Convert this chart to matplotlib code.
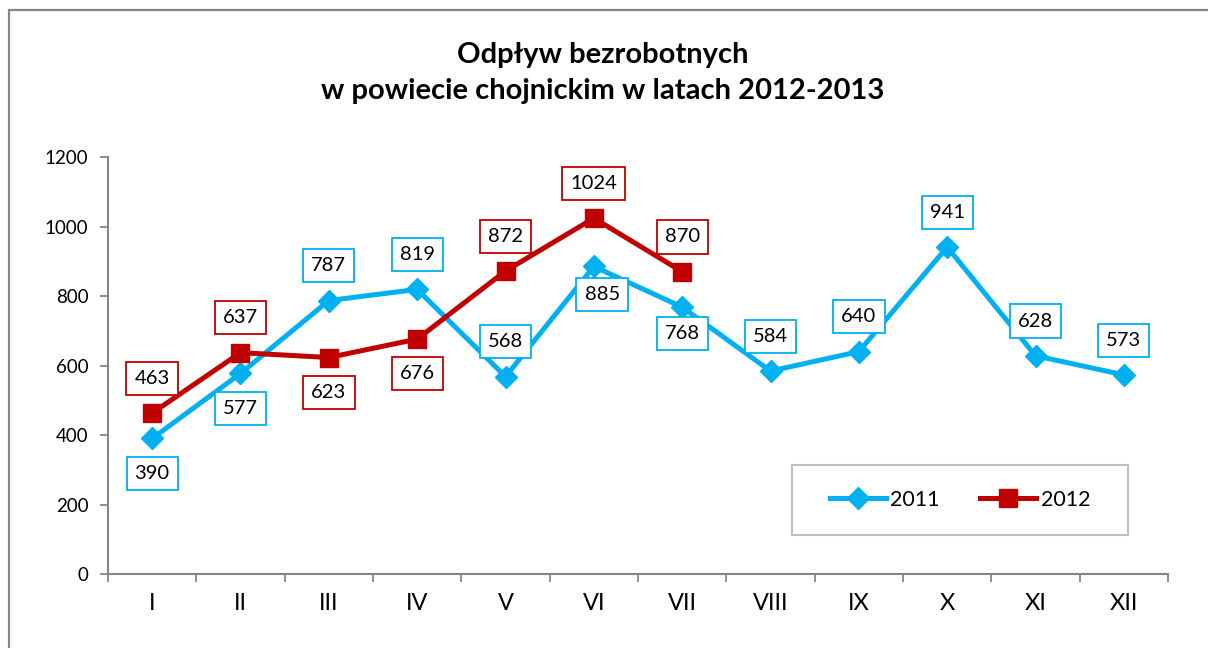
import matplotlib
matplotlib.use("Agg")
import matplotlib.pyplot as plt
import matplotlib.patches as patches

plt.rcParams['font.family'] = ['Lato', 'DejaVu Sans']

# dane
months = ["I", "II", "III", "IV", "V", "VI", "VII", "VIII", "IX", "X", "XI", "XII"]
vals_2011 = [390, 577, 787, 819, 568, 885, 768, 584, 640, 941, 628, 573]
vals_2012 = [463, 637, 623, 676, 872, 1024, 870]
# +1 = etykieta nad punktem, -1 = pod punktem
pos_2011 = [-1, -1, 1, 1, 1, -1, -1, 1, 1, 1, 1, 1]
pos_2012 = [1, 1, -1, -1, 1, 1, 1]

BLUE = "#00b0f0"
RED = "#c00000"
GRAY = "#868686"

fig = plt.figure(figsize=(12.08, 6.48), dpi=100)
ax = fig.add_axes([0.0894, 0.1142, 0.8775, 0.6435])

x11 = list(range(len(vals_2011)))
x12 = list(range(len(vals_2012)))

ax.plot(x11, vals_2011, color=BLUE, lw=3.6, marker="D", ms=11,
        label="2011", zorder=3)
ax.plot(x12, vals_2012, color=RED, lw=3.6, marker="s", ms=13,
        label="2012", zorder=4)

# etykiety VI i VII (2011) stoja blizej punktow, jak w oryginale
near = {5: (6, 20), 6: (0, 19)}


def labels(xs, vals, pos, color, tweak=None):
    tweak = tweak or {}
    for x, v, p in zip(xs, vals, pos):
        dx, dy = tweak.get(x, (0, 25))
        ax.annotate(str(v), (x, v), xytext=(dx, dy * p), textcoords="offset points",
                    ha="center", va="center", fontsize=14.5, zorder=5,
                    bbox=dict(boxstyle="square,pad=0.4", fc="white", ec=color, lw=1.3))


labels(x11, vals_2011, pos_2011, BLUE, near)
labels(x12, vals_2012, pos_2012, RED)

ax.set_xlim(-0.5, 11.5)
ax.set_ylim(0, 1200)
ax.set_yticks(range(0, 1201, 200))
ax.set_xticks(x11)
ax.set_xticklabels(months, fontsize=17)
ax.set_xticks([i - 0.5 for i in range(13)], minor=True)
ax.tick_params(axis="x", which="major", length=0, pad=14)
ax.tick_params(axis="x", which="minor", length=6, color=GRAY, width=1.3)
ax.tick_params(axis="y", length=6, color=GRAY, width=1.3, labelsize=13.5, pad=8)

for s in ["top", "right"]:
    ax.spines[s].set_visible(False)
for s in ["left", "bottom"]:
    ax.spines[s].set_color(GRAY)
    ax.spines[s].set_linewidth(1.5)

fig.text(0.499, 0.887, "Odpływ bezrobotnych\nw powiecie chojnickim w latach 2012-2013",
         ha="center", va="center", fontsize=21, fontweight="bold", linespacing=1.5)

# ramka legendy
fig.patches.append(patches.Rectangle((792 / 1208, 1 - 535 / 648), 336 / 1208, 70 / 648,
                                     transform=fig.transFigure, fill=False,
                                     ec="#bfbfbf", lw=1.5))
fig.legend(loc="center", bbox_to_anchor=(0.7947, 0.2284), ncol=2, frameon=False,
           fontsize=15.5, handlelength=2.6, handletextpad=0.2, columnspacing=1.9)

# ramka wykresu
fig.patches.append(patches.Rectangle((9 / 1208, -0.1), 1.2, 1.1 - 10 / 648,
                                     transform=fig.transFigure, fill=False,
                                     ec=GRAY, lw=1.6))

fig.savefig("out.png", dpi=100)
